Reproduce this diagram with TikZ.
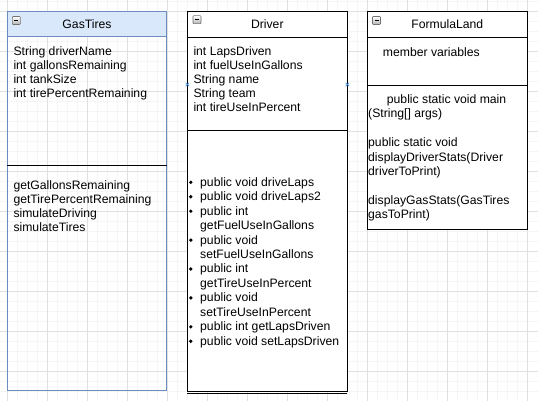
\documentclass[tikz,border=0pt]{standalone}
\usepackage{fontspec}
\setmainfont{Liberation Sans}
\begin{document}
\begin{tikzpicture}[x=1pt,y=-1pt,
  txt/.style={anchor=base west, inner sep=0pt, font=\fontsize{12.2}{14}\selectfont, text=black},
  ttl/.style={anchor=base, inner sep=0pt, font=\fontsize{12.2}{14}\selectfont, text=black},
  gridminor/.style={draw=black!4, line width=0.8pt},
  gridmajor/.style={draw=black!12, line width=0.9pt},
  umlbox/.style={draw=black, line width=1pt},
  bluebox/.style={draw=gtborder, line width=1pt},
  bullet/.style={circle, fill=black, inner sep=0pt, minimum size=3.7pt},
  mk/.style={draw=markblue, line width=0.7pt},
  minusbox/.style={draw=black!55, line width=0.6pt, top color=white, bottom color=black!30, rounded corners=0.8pt}
]
\definecolor{gtfill}{HTML}{DAE8FC}
\definecolor{gtborder}{HTML}{6C8EBF}
\definecolor{markblue}{HTML}{3D8FE0}
\useasboundingbox (0,0) rectangle (538,401);
\fill[white] (0,0) rectangle (538,401);
% grid
\foreach \x in {7.3,17.3,...,537} \draw[gridminor] (\x,0) -- (\x,401);
\foreach \y in {1.7,11.7,...,400} \draw[gridminor] (0,\y) -- (538,\y);
\foreach \x in {7.3,47.3,...,537} \draw[gridmajor] (\x,0) -- (\x,401);
\foreach \y in {11.7,51.7,...,400} \draw[gridmajor] (0,\y) -- (538,\y);

% ---------- GasTires ----------
\fill[gtfill] (7.3,11.7) rectangle (166.7,36.7);
\draw[bluebox] (7.3,11.7) rectangle (166.7,390.7);
\draw[bluebox] (7.3,36.7) -- (166.7,36.7);
\draw[black, line width=1pt] (7.3,165.7) -- (166.7,165.7);
\shade[minusbox] (12.3,16.5) rectangle (20.3,24.5);
\draw[line width=1.2pt] (14.3,20.5) -- (18.3,20.5);
\node[ttl] (gtT) at (87,28.7) {GasTires};
\node[txt] (gt1) at (13.3,55.2) {String driverName};
\node[txt] (gt2) at (13.3,69.2) {int gallonsRemaining};
\node[txt] (gt3) at (13.3,83.2) {int tankSize};
\node[txt] (gt4) at (13.3,97.2) {int tirePercentRemaining};
\node[txt] (gm1) at (13.3,189.2) {getGallonsRemaining};
\node[txt] (gm2) at (13.3,203.2) {getTirePercentRemaining};
\node[txt] (gm3) at (13.3,217.2) {simulateDriving};
\node[txt] (gm4) at (13.3,231.2) {simulateTires};

% ---------- Driver ----------
\fill[white] (187.3,11.7) rectangle (347.3,391.7);
\draw[umlbox] (187.3,11.7) rectangle (347.3,391.7);
\draw[umlbox] (187.3,37.3) -- (347.3,37.3);
\draw[umlbox] (187.3,131) -- (347.3,131);
\draw[umlbox] (187.3,393.6) -- (347.3,393.6);
\shade[minusbox] (193,15.7) rectangle (201,23.7);
\draw[line width=1.2pt] (195,19.7) -- (199,19.7);
\node[ttl] (drT) at (267.3,28.7) {Driver};
\node[txt] (dr1) at (193.3,55.2) {int LapsDriven};
\node[txt] (dr2) at (193.3,69.2) {int fuelUseInGallons};
\node[txt] (dr3) at (193.3,83.2) {String name};
\node[txt] (dr4) at (193.3,97.2) {String team};
\node[txt] (dr5) at (193.3,111.2) {int tireUseInPercent};
\node[txt] (dm0) at (200,186.2) {public void driveLaps};
\node[txt] (dm1) at (200,200.65) {public void driveLaps2};
\node[txt] (dm2) at (200,215.1) {public int};
\node[txt] (dm3) at (200,229.55) {getFuelUseInGallons};
\node[txt] (dm4) at (200,244.0) {public void};
\node[txt] (dm5) at (200,258.45) {setFuelUseInGallons};
\node[txt] (dm6) at (200,272.9) {public int};
\node[txt] (dm7) at (200,287.35) {getTireUseInPercent};
\node[txt] (dm8) at (200,301.8) {public void};
\node[txt] (dm9) at (200,316.25) {setTireUseInPercent};
\node[txt] (dm10) at (200,330.7) {public int getLapsDriven};
\node[txt] (dm11) at (200,345.15) {public void setLapsDriven};
\node[bullet] (db0) at (190.8,182.3) {};
\node[bullet] (db1) at (190.8,196.75) {};
\node[bullet] (db2) at (190.8,211.2) {};
\node[bullet] (db4) at (190.8,240.1) {};
\node[bullet] (db6) at (190.8,269.0) {};
\node[bullet] (db8) at (190.8,297.9) {};
\node[bullet] (db10) at (190.8,326.8) {};
\node[bullet] (db11) at (190.8,341.25) {};
\draw[mk] (185.6,82.8) -- (189,86.2) (185.6,86.2) -- (189,82.8);
\draw[mk] (345.6,82.8) -- (349,86.2) (345.6,86.2) -- (349,82.8);

% ---------- FormulaLand ----------
\fill[white] (367.3,11.7) rectangle (527.3,229);
\draw[umlbox] (367.3,11.7) rectangle (527.3,229);
\draw[umlbox] (367.3,37.3) -- (527.3,37.3);
\draw[umlbox] (367.3,86) -- (527.3,86);
\shade[minusbox] (372.5,16.5) rectangle (380.5,24.5);
\draw[line width=1.2pt] (374.5,20.5) -- (378.5,20.5);
\node[ttl] (flT) at (447.3,28.7) {FormulaLand};
\node[txt] (fl1) at (382.7,56.2) {member variables};
\node[txt] (fm1) at (386.7,103.5) {public static void main};
\node[txt] (fm2) at (368,117.9) {(String[] args)};
\node[txt] (fm3) at (368,146.7) {public static void};
\node[txt] (fm4) at (368,161.1) {displayDriverStats(Driver};
\node[txt] (fm5) at (368,175.5) {driverToPrint)};
\node[txt] (fm6) at (368,204.3) {displayGasStats(GasTires};
\node[txt] (fm7) at (368,218.7) {gasToPrint)};
\end{tikzpicture}
\end{document}
